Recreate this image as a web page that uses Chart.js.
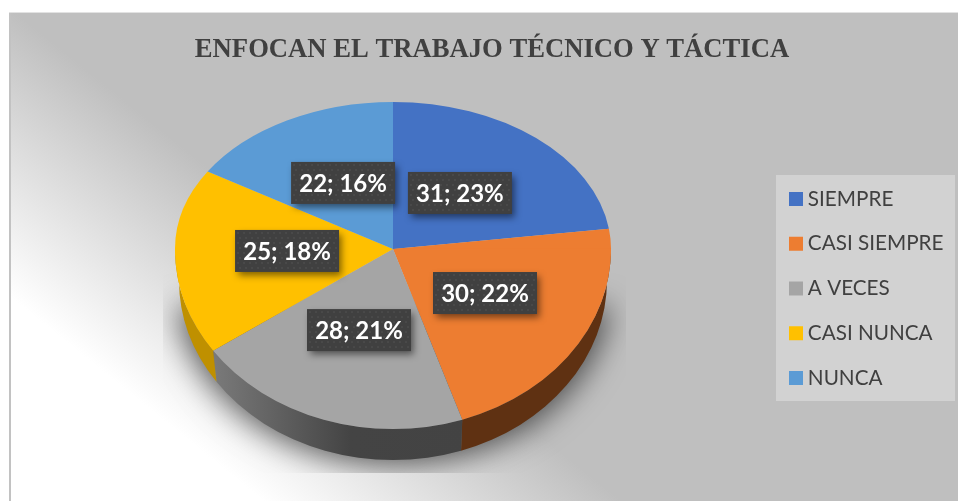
<!DOCTYPE html>
<html><head><meta charset="utf-8">
<style>html,body{margin:0;padding:0;background:#fff;overflow:hidden}canvas{display:block}</style>
<script src="https://cdn.jsdelivr.net/npm/chart.js@4"></script>
</head><body><canvas id="c" width="958" height="501"></canvas>
<script>
const titleText = "ENFOCAN EL TRABAJO TÉCNICO Y TÁCTICA";
const categories = ["SIEMPRE","CASI SIEMPRE","A VECES","CASI NUNCA","NUNCA"];
const values = [31,30,28,25,22];
const colors = ["#4472c4","#ed7d31","#a5a5a5","#ffc000","#5b9bd5"];
const wallColors = ["#2a4478","#5f3112","#434343","#bf9000","#37608a"];
// label centre relative to the pie centre, in units of the radius
const labelFrac = [[0.307,-0.257],[0.422,0.202],[-0.156,0.372],[-0.486,0.009],[-0.229,-0.303]];
const SQ_TOP = 147/218, SQ_BOT = 180/218, DEPTH = 31;

function halves(ctx, cy, fn){
  [[SQ_TOP,-1000,cy+0.5],[SQ_BOT,cy-0.5,1000]].forEach(([k,y0,y1])=>{
    ctx.save();
    ctx.beginPath(); ctx.rect(0,y0,958,y1-y0); ctx.clip();
    ctx.translate(0,cy); ctx.scale(1,k); ctx.translate(0,-cy);
    fn(); ctx.restore();
  });
}
const pie3d = {
  id:'pie3d',
  afterLayout(chart){
    const l = chart.legend, dx = 770.5-l.left, dy = 55;
    l.left+=dx; l.right+=dx; l.top+=dy; l.bottom+=dy;
    chart.titleBlock.left+=7.5; chart.titleBlock.right+=7.5;
  },
  beforeDraw(chart){
    const c = chart.ctx;
    c.save();
    c.fillStyle='#fff'; c.fillRect(0,0,958,501);
    const g = c.createLinearGradient(-141,175,0,0);
    g.addColorStop(0,'#ffffff'); g.addColorStop(1,'#bfbfbf');
    c.fillStyle=g; c.fillRect(10,13,948,488);
    c.fillStyle='#e2e2e2'; c.fillRect(9,12,949,1);
    c.fillStyle='#c2c2c2'; c.fillRect(9,13,2,488);
    c.fillStyle='#d2d2d2'; c.fillRect(776,175,179,226);
    c.restore();
  },
  beforeDatasetDraw(chart,args){
    const c = chart.ctx, meta = args.meta, a0 = meta.data[0];
    const cx=a0.x, cy=a0.y, R=a0.outerRadius, bR=R-4;
    // soft shadow under the lower half only; the caster sits off-canvas
    c.save();
    c.beginPath(); c.rect(163,0,463,473); c.clip();
    c.shadowColor='rgba(0,0,0,0.6)'; c.shadowBlur=30; c.shadowOffsetX=2000; c.shadowOffsetY=5;
    c.fillStyle='#000';
    c.beginPath();
    c.ellipse(cx-2000,cy+DEPTH,R,R*SQ_BOT,0,0.12,Math.PI-0.12);
    c.closePath(); c.fill();
    c.restore();
    // side walls
    meta.data.forEach((arc,i)=>{
      const a=Math.max(arc.startAngle,0), b=Math.min(arc.endAngle,Math.PI);
      if(b<=a) return;
      c.save();
      c.beginPath();
      c.ellipse(cx,cy,R,R*SQ_BOT,0,a,b);
      c.ellipse(cx,cy+DEPTH,bR,R*SQ_BOT,0,b,a,true);
      c.closePath();
      let f=wallColors[i];
      if(i===2){
        const g=c.createLinearGradient(205,0,470,0);
        g.addColorStop(0,'#7d7d7d'); g.addColorStop(0.55,'#444'); g.addColorStop(1,'#434343');
        f=g;
      }
      c.fillStyle=f; c.fill(); c.restore();
    });
    halves(c,cy,()=>meta.controller.draw());
    return false;
  },
  afterDatasetsDraw(chart){
    const c = chart.ctx, meta = chart.getDatasetMeta(0), a0=meta.data[0];
    const total = values.reduce((s,v)=>s+v,0);
    const w=104,h=42;
    values.forEach((v,i)=>{
      const x=a0.x+labelFrac[i][0]*a0.outerRadius, y=a0.y+labelFrac[i][1]*a0.outerRadius;
      c.save();
      c.shadowColor='rgba(0,0,0,0.5)'; c.shadowBlur=7; c.shadowOffsetX=3; c.shadowOffsetY=4;
      c.fillStyle='#404040'; c.fillRect(x-w/2,y-h/2,w,h);
      c.restore();
      c.save();
      c.fillStyle='rgba(255,255,255,0.05)';
      for(let py=2;py<h-1;py+=5) for(let px=2+(py%2)*2;px<w-1;px+=6) c.fillRect(x-w/2+px,y-h/2+py,2,2);
      c.fillStyle='#fff'; c.font='bold 24px Lato, Carlito, sans-serif';
      c.textAlign='center'; c.textBaseline='middle';
      c.fillText(v+'; '+Math.round(v/total*100)+'%',x,y+1);
      c.restore();
    });
  }
};
new Chart(document.getElementById('c'),{
  type:'pie',
  data:{labels:categories,datasets:[{data:values,backgroundColor:colors,borderWidth:0,hoverOffset:0}]},
  plugins:[pie3d],
  options:{
    responsive:false,animation:false,
    layout:{padding:{top:0,bottom:34,left:11,right:0}},
    plugins:{
      tooltip:{enabled:false},
      title:{display:true,text:titleText,color:'#404040',
        font:{family:'"Liberation Serif", serif',size:26.65,weight:'bold',lineHeight:1.2},
        padding:{top:34,bottom:-35}},
      legend:{position:'right',align:'center',
        labels:{boxWidth:3,boxHeight:3,padding:24,color:'#404040',
          font:{family:'Lato, Carlito, sans-serif',size:20.7},
          generateLabels(chart){
            return Chart.overrides.pie.plugins.legend.labels.generateLabels(chart)
              .map(it=>({...it,strokeStyle:it.fillStyle,lineWidth:11}));
          }}}
    }
  }
});
</script></body></html>
